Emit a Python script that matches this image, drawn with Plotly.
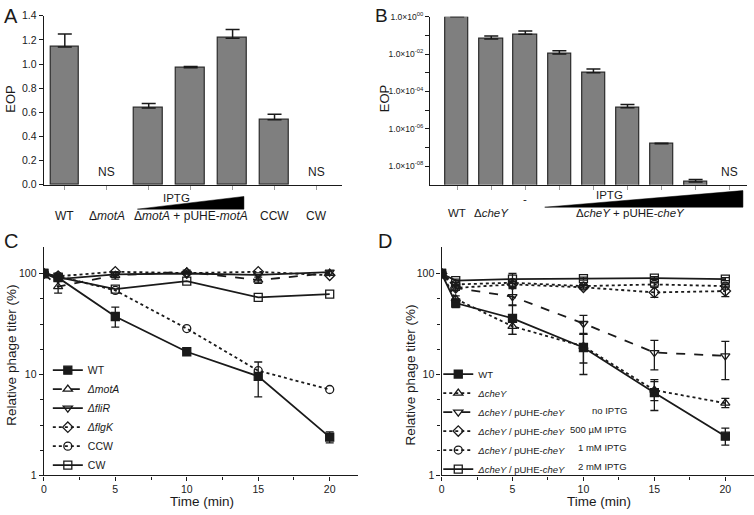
import plotly.graph_objects as go

W, H = 754, 515
def fx(p): return p / W
def fy(p): return 1 - p / H

FONT = "Liberation Sans, Arial, sans-serif"
INK = "#1a1a1a"

# ---------------- Panel A data ----------------
a_cats = [0, 1, 2, 3, 4, 5, 6]
a_eop = [1.141, None, 0.635, 0.970, 1.214, 0.538, None]
a_err = [0.108, 0, 0.038, 0.010, 0.072, 0.046, 0]
a_label_x = [0, 1, 3, 5, 6]
a_labels = ["WT", "Δ<i>motA</i>", "Δ<i>motA</i> + pUHE-<i>motA</i>", "CCW", "CW"]
a_ns_x = [1, 6]

# ---------------- Panel B data ----------------
b_cats = [0, 1, 2, 3, 4, 5, 6, 7, 8]
b_eop = [1.0, 0.065, 0.115, 0.0100, 0.00100, 1.35e-5, 1.55e-7, 1.4e-9, None]
b_err = [0, 0.028, 0.055, 0.0050, 0.00060, 0.65e-5, 0.10e-7, 0.5e-9, 0]
b_label_x = [0, 1, 2, 5.08]
b_labels = ["WT", "Δ<i>cheY</i>", "-", "Δ<i>cheY</i> + pUHE-<i>cheY</i>"]
b_tickvals = [1e0, 1e-1, 1e-2, 1e-3, 1e-4, 1e-5, 1e-6, 1e-7, 1e-8]
b_ticktext = ["1.0×10<sup>00</sup>", "", "1.0×10<sup>-02</sup>", "", "1.0×10<sup>-04</sup>", "",
              "1.0×10<sup>-06</sup>", "", "1.0×10<sup>-08</sup>"]
b_ns_x = [8]

# ---------------- Panel C data ----------------
time_min = [0, 1, 5, 10, 15, 20]
c_names = ["WT", "<i>ΔmotA</i>", "<i>ΔfliR</i>", "<i>ΔflgK</i>", "CCW", "CW"]
c_wt = [100, 91, 37.5, 16.8, 9.6, 2.4]
c_wt_up = [0, 0, 9, 0, 3.7, 0.3]
c_wt_dn = [0, 0, 8, 0, 3.6, 0.3]
c_mota = [100, 74, 96, 104, 86, 101]
c_mota_up = [0, 10, 8, 4, 6, 5]
c_mota_dn = [0, 10, 8, 4, 6, 5]
c_flir = [100, 88, 98, 100, 97, 103]
c_flgk = [100, 94, 104, 101, 104, 96]
c_ccw = [100, 94, 68, 28.5, 10.9, 7.1]
c_cw = [100, 92, 70, 84, 58, 62.5]

# ---------------- Panel D data ----------------
d_names = ["WT", "<i>ΔcheY</i>", "<i>ΔcheY</i> / pUHE-<i>cheY</i>", "<i>ΔcheY</i> / pUHE-<i>cheY</i>",
           "<i>ΔcheY</i> / pUHE-<i>cheY</i>", "<i>ΔcheY</i> / pUHE-<i>cheY</i>"]
d_iptg = ["", "", "no IPTG", "500 µM IPTG", "1 mM IPTG", "2 mM IPTG"]
d_wt = [100, 51, 36, 18.5, 6.6, 2.45]
d_wt_up = [0, 5, 12, 7, 2.3, 0.5]
d_wt_dn = [0, 5, 11, 8.5, 2.2, 0.45]
d_chey = [100, 56, 30, 19, 7.0, 5.2]
d_chey_up = [0, 4, 6, 6, 1.5, 0.6]
d_chey_dn = [0, 4, 5, 6, 1.5, 0.5]
d_noiptg = [100, 72, 59, 32, 16.5, 15.3]
d_noiptg_up = [0, 4, 12, 6.5, 5.3, 6]
d_noiptg_dn = [0, 4, 10, 7, 5.4, 6.4]
d_500 = [100, 72, 78, 73, 65, 67]
d_500_up = [0, 4, 5, 3, 8, 8]
d_500_dn = [0, 4, 5, 3, 7, 8]
d_1mm = [100, 78, 81, 75, 78, 75]
d_1mm_up = [0, 3, 6, 3, 3, 3]
d_1mm_dn = [0, 3, 6, 3, 3, 3]
d_2mm = [100, 85, 88, 89, 90, 88]
d_2mm_up = [0, 3, 12, 3, 3, 3]
d_2mm_dn = [0, 3, 8, 3, 3, 3]

fig = go.Figure()

BAR_FILL = "#7f7f7f"
BAR_LINE = "#2a2a2a"

fig.add_trace(go.Bar(
    x=a_cats, y=a_eop, width=0.69, xaxis="x", yaxis="y",
    marker=dict(color=BAR_FILL, line=dict(color=BAR_LINE, width=1.2)),
    error_y=dict(type="data", symmetric=False, array=a_err, arrayminus=[0] * len(a_err),
                 width=7, thickness=1.5, color=INK),
    showlegend=False))

fig.add_trace(go.Bar(
    x=b_cats, y=b_eop, width=0.68, xaxis="x2", yaxis="y2",
    marker=dict(color=BAR_FILL, line=dict(color=BAR_LINE, width=1.2)),
    error_y=dict(type="data", symmetric=False, array=b_err, arrayminus=[0] * len(b_err),
                 width=7, thickness=1.5, color=INK),
    showlegend=False))


def add_series(x, y, name, symbol, dash, xa, ya, legend, up=None, dn=None):
    err = None
    if up is not None:
        err = dict(type="data", symmetric=False, array=up, arrayminus=dn,
                   width=4, thickness=1.3, color=INK)
    fig.add_trace(go.Scatter(
        x=x, y=y, name=name, mode="lines+markers", xaxis=xa, yaxis=ya, legend=legend,
        line=dict(color=INK, width=1.8, dash=dash),
        marker=dict(symbol=symbol, size=8, color=INK, line=dict(color=INK, width=1.3)),
        error_y=err))


# Panel C
add_series(time_min, c_wt, c_names[0], "square", "solid", "x3", "y3", "legend", c_wt_up, c_wt_dn)
add_series(time_min, c_mota, c_names[1], "triangle-up-open", "dash", "x3", "y3", "legend", c_mota_up, c_mota_dn)
add_series(time_min, c_flir, c_names[2], "triangle-down-open", "solid", "x3", "y3", "legend")
add_series(time_min, c_flgk, c_names[3], "diamond-open", "dot", "x3", "y3", "legend")
add_series(time_min, c_ccw, c_names[4], "circle-open", "dot", "x3", "y3", "legend")
add_series(time_min, c_cw, c_names[5], "square-open", "solid", "x3", "y3", "legend")

# Panel D
add_series(time_min, d_wt, d_names[0], "square", "solid", "x4", "y4", "legend2", d_wt_up, d_wt_dn)
add_series(time_min, d_chey, d_names[1], "triangle-up-open", "dot", "x4", "y4", "legend2", d_chey_up, d_chey_dn)
add_series(time_min, d_noiptg, d_names[2], "triangle-down-open", "dash", "x4", "y4", "legend2", d_noiptg_up, d_noiptg_dn)
add_series(time_min, d_500, d_names[3], "diamond-open", "dot", "x4", "y4", "legend2", d_500_up, d_500_dn)
add_series(time_min, d_1mm, d_names[4], "circle-open", "dot", "x4", "y4", "legend2", d_1mm_up, d_1mm_dn)
add_series(time_min, d_2mm, d_names[5], "square-open", "solid", "x4", "y4", "legend2", d_2mm_up, d_2mm_dn)


def axis(**kw):
    base = dict(showline=True, linecolor=INK, linewidth=1.4, ticks="outside", ticklen=4,
                tickcolor=INK, tickwidth=1.1, showgrid=False, zeroline=False,
                tickfont=dict(size=10.5, color=INK, family=FONT), fixedrange=True)
    base.update(kw)
    return base


log_minor = [1.78, 3.16, 5.62, 17.8, 31.6, 56.2]

fig.update_layout(
    width=W, height=H, autosize=False,
    margin=dict(l=0, r=0, t=0, b=0),
    paper_bgcolor="white", plot_bgcolor="white",
    font=dict(family=FONT, color=INK),
    bargap=0,
    xaxis=axis(domain=[fx(41), fx(340)], range=[-0.5, 6.6], anchor="y",
               tickvals=a_cats, ticktext=[""] * 7, tickcolor="#9a9a9a", ticklen=4),
    yaxis=axis(domain=[fy(183), fy(10)], range=[0, 1.4], anchor="x",
               tickvals=[0, 0.2, 0.4, 0.6, 0.8, 1.0, 1.2, 1.4], tickformat=".1f"),
    xaxis2=axis(domain=[fx(429), fx(747)], range=[-0.79, 8.51], anchor="y2",
                tickvals=b_cats, ticktext=[""] * 9, tickcolor="#9a9a9a", ticklen=4),
    yaxis2=axis(domain=[fy(183), fy(11)], type="log", range=[-9, 0], anchor="x2",
                tickvals=b_tickvals, ticktext=b_ticktext,
                tickfont=dict(size=8.5, color=INK, family=FONT)),
    xaxis3=axis(domain=[fx(41), fx(356.7)], range=[0, 22], anchor="y3",
                tickvals=[0, 5, 10, 15, 20],
                minor=dict(dtick=2.5, tick0=0, ticks="outside", ticklen=3, tickcolor=INK)),
    yaxis3=axis(domain=[fy(480.7), fy(247)], type="log", range=[0, 2.26], anchor="x3",
                tickvals=[1, 10, 100], ticktext=["1", "10", "100"],
                minor=dict(tickmode="array", tickvals=log_minor, ticks="outside", ticklen=3, tickcolor=INK)),
    xaxis4=axis(domain=[fx(440.3), fx(753.7)], range=[0, 22], anchor="y4",
                tickvals=[0, 5, 10, 15, 20],
                minor=dict(dtick=2.5, tick0=0, ticks="outside", ticklen=3, tickcolor=INK)),
    yaxis4=axis(domain=[fy(480.7), fy(247)], type="log", range=[0, 2.26], anchor="x4",
                tickvals=[1, 10, 100], ticktext=["1", "10", "100"],
                minor=dict(tickmode="array", tickvals=log_minor, ticks="outside", ticklen=3, tickcolor=INK)),
    legend=dict(x=fx(45), y=fy(358), xanchor="left", yanchor="top", bgcolor="rgba(0,0,0,0)",
                font=dict(size=10.5, family=FONT, color=INK), itemwidth=30, tracegroupgap=0),
    legend2=dict(x=fx(437), y=fy(362), xanchor="left", yanchor="top", bgcolor="rgba(0,0,0,0)",
                 font=dict(size=9.5, family=FONT, color=INK), itemwidth=30, tracegroupgap=0),
)

ann = []
def text(x, y, s, size=12, xref="paper", yref="paper", xanchor="center", yanchor="middle", angle=0):
    ann.append(dict(x=x, y=y, text=s, xref=xref, yref=yref, showarrow=False, xanchor=xanchor,
                    yanchor=yanchor, textangle=angle, font=dict(size=size, family=FONT, color=INK)))

# panel letters
text(fx(8), fy(10), "A", size=20)
text(fx(380), fy(10), "B", size=19)
text(fx(8), fy(241), "C", size=20)
text(fx(384), fy(241), "D", size=20)

# axis titles
text(fx(8), fy(95), "EOP", size=13, angle=-90)
text(fx(383), fy(95), "EOP", size=13, angle=-90)
text(fx(9), fy(357), "Relative phage titer (%)", size=13.5, angle=-90)
text(fx(409), fy(378), "Relative phage titer (%)", size=13.5, angle=-90)
text(fx(200), fy(507), "Time (min)", size=13.5)
text(fx(598), fy(507), "Time (min)", size=13.5)

# panel A labels
for xv, lab in zip(a_label_x, a_labels):
    text(xv, fy(215), lab, size=12, xref="x")
text(2.67, fy(197), "IPTG", size=11.5, xref="x")
for xv in a_ns_x:
    text(xv, 0.105, "NS", size=12, xref="x", yref="y")

# panel B labels
for xv, lab in zip(b_label_x, b_labels):
    yy = fy(198) if lab == "-" else fy(212)
    text(xv, yy, lab, size=11.5, xref="x2")
text(4.47, fy(194), "IPTG", size=11.5, xref="x2")
for xv in b_ns_x:
    text(xv, -8.32, "NS", size=12, xref="x2", yref="y2")

# panel D legend IPTG column (aligned with legend2 rows: top 362 + 14.5 + 19*i)
for i, lab in enumerate(d_iptg):
    if lab:
        text(fx(628), fy(362 + 14.5 + 19 * i), lab, size=9.5, xanchor="right")

fig.update_layout(annotations=ann)

# IPTG wedges
fig.add_shape(type="path", xref="x", yref="paper",
              path=f"M 1.73,{fy(208)} L 4.27,{fy(195)} L 4.27,{fy(208)} Z",
              fillcolor="black", line=dict(color="black", width=0.5))
fig.add_shape(type="path", xref="x2", yref="paper",
              path=f"M 2.57,{fy(206)} L 8.39,{fy(189)} L 8.39,{fy(206)} Z",
              fillcolor="black", line=dict(color="black", width=0.5))

fig.write_html("out.html", config={"displayModeBar": False},
               post_script="document.body.style.margin='0px';document.body.style.overflow='hidden';")
